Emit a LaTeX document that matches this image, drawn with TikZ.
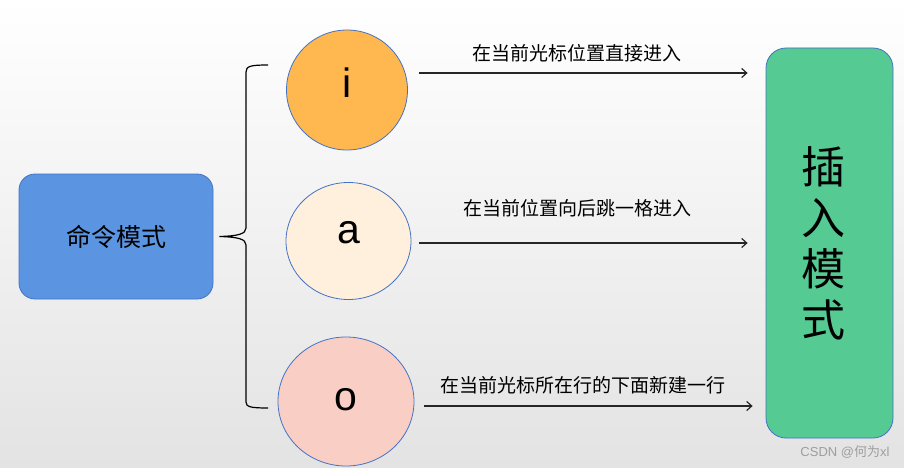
\documentclass[tikz,border=0pt]{standalone}
\usepackage{fontspec}
\setmainfont{Liberation Sans}
\newfontfamily\cjk{Noto Sans CJK SC}
\usetikzlibrary{shapes.geometric, arrows.meta, calc}
\definecolor{cmdblue}{HTML}{5B95E2}
\definecolor{insgreen}{HTML}{55CA93}
\definecolor{edgeblue}{HTML}{4472C4}
\definecolor{keyorange}{HTML}{FFB74F}
\definecolor{keycream}{HTML}{FFF0DE}
\definecolor{keypink}{HTML}{F9CFC5}
\definecolor{linegray}{HTML}{262626}

\begin{document}
\begin{tikzpicture}[x=1pt, y=-1pt,
    modebox/.style={draw=edgeblue, line width=0.8pt, rounded corners=16pt},
    keynode/.style={ellipse, draw=edgeblue, line width=0.8pt, inner sep=0pt,
        font=\fontsize{41}{41}\selectfont},
    jump/.style={draw=linegray, line width=1.2pt,
        -{Straight Barb[length=5pt, width=9pt]}},
    jumptext/.style={font=\cjk\fontsize{19}{19}\selectfont, inner sep=0pt,
        text=black, xshift=-6pt}]

% --- BACKGROUND ---
\shade[top color=white, bottom color=black!11] (0,0) rectangle (904,468);
\useasboundingbox (0,0) rectangle (904,468);

% --- MODES ---
\node[modebox, fill=cmdblue, minimum width=194pt, minimum height=125pt,
    font=\cjk\fontsize{25}{25}\selectfont] (cmd) at (116,236.5) {命令模式};
\node[modebox, fill=insgreen, rounded corners=20pt, minimum width=127pt,
    minimum height=390pt, font=\cjk\fontsize{44}{51}\selectfont] (ins) at (829.5,243)
    {\hspace*{-12pt}\parbox{44pt}{\centering 插\\入\\模\\式}};

% --- KEYS ---
\node[keynode, fill=keyorange, minimum width=121pt, minimum height=120pt,
    text height=29pt, text depth=14pt] (i) at (347,90) {i};
\node[keynode, fill=keycream, minimum width=125pt, minimum height=117pt,
    text height=22pt, text depth=18pt] (a) at (348.5,241) {a};
\node[keynode, fill=keypink, minimum width=136pt, minimum height=129pt,
    text height=22pt, text depth=5pt] (o) at (346,401.5) {o};

% --- BRACE ---
\coordinate (tip) at ($(cmd.east)+(6,0)$);
\draw[black, line width=1.2pt]
    (268,65) .. controls (251,65) and (246,66) .. (246,72)
    -- (246,228) .. controls (246,234) and (238,236) .. (tip)
    .. controls (238,237) and (246,239) .. (246,245)
    -- (246,402) .. controls (246,407) and (251,408) .. (268,408);

% --- JUMPS ---
\coordinate (i-from) at ($(i.east)+(11,-17)$);
\coordinate (i-to) at ($(ins.west |- i-from)+(-18,0)$);
\coordinate (a-from) at ($(a.east)+(8,2)$);
\coordinate (a-to) at ($(ins.west |- a-from)+(-18,0)$);
\coordinate (o-from) at ($(o.east)+(10,4.5)$);
\coordinate (o-to) at ($(ins.west |- o-from)+(-13,0)$);

\draw[jump] (i-from) -- (i-to)
    node[midway, above=10.5pt, jumptext] {在当前光标位置直接进入};
\draw[jump] (a-from) -- (a-to)
    node[midway, above=25.5pt, jumptext] {在当前位置向后跳一格进入};
\draw[jump] (o-from) -- (o-to)
    node[midway, above=11.5pt, jumptext] {在当前光标所在行的下面新建一行};

% --- WATERMARK ---
\node[font=\fontsize{13}{13}\selectfont, text=black!38, inner sep=0pt] (mark)
    at (845,452) {CSDN @{\cjk 何为}xl};

\end{tikzpicture}
\end{document}
